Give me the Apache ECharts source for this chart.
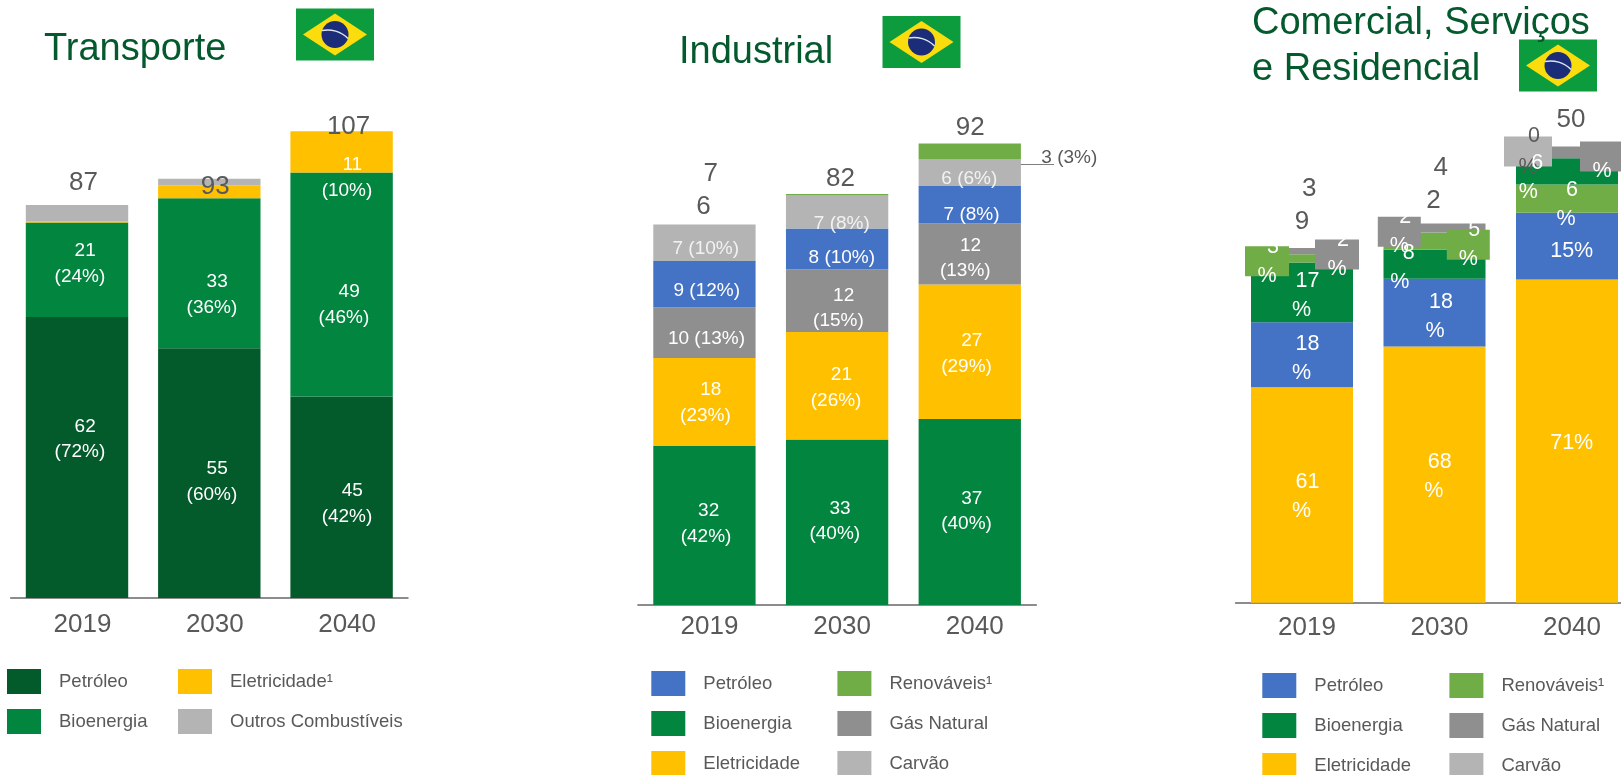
<!DOCTYPE html>
<html lang="pt">
<head>
<meta charset="utf-8">
<title>Brasil - demanda por setor</title>
<script src="https://cdn.jsdelivr.net/npm/echarts@6/dist/echarts.min.js"></script>
<style>
  html, body { margin: 0; padding: 0; background: #fff; overflow: hidden; }
  /* a tela passa um pouco da janela: o terceiro painel e a legenda são cortados na borda */
  #chart { width: 1680px; height: 800px; }
</style>
</head>
<body>
<div id="chart"></div>
<script>
// dados
const years = ['2019', '2030', '2040']

// Transporte
const trPetroleo = [62.2, 55.3, 44.6]
const trBioenergia = [20.9, 33.2, 49.6]
const trEletricidade = [0.3, 2.8, 9.1]
const trOutros = [3.6, 1.5, 0]
const trTotal = [87, 93, 107]
const trPetroleoText = ['  62\n(72%)', '  55\n(60%)', '  45\n(42%)']
const trBioenergiaText = ['  21\n(24%)', '  33\n(36%)', '  49\n(46%)']
const trEletricidadeText = [null, null, '  11\n(10%)']

// Industrial
const inBioenergia = [31.8, 33.1, 37.2]
const inEletricidade = [17.6, 21.5, 26.9]
const inGas = [10.1, 12.5, 12.2]
const inPetroleo = [9.3, 8.2, 7.5]
const inCarvao = [7.3, 6.7, 5.3]
const inRenovaveis = [0, 0.2, 3.2]
const inTotal = [76, 82, 92]
const inBioenergiaText = [' 32\n(42%)', '  33\n(40%)', '  37\n(40%)']
const inEletricidadeText = ['  18\n(23%)', '  21\n(26%)', '  27\n(29%)']
const inGasText = ['10 (13%)', '  12\n(15%)', '  12\n(13%)']
const inPetroleoText = ['9 (12%)', '8 (10%)', '7 (8%)']
const inCarvaoText = ['7 (10%)', '7 (8%)', '6 (6%)']
const inRenovaveisText = [null, null, '3 (3%)']

// Comercial, Serviços e Residencial
const csEletricidade = [23.8, 28.3, 35.7]
const csPetroleo = [7.2, 7.5, 7.4]
const csBioenergia = [6.6, 3.2, 0]
const csRenovaveis = [0.9, 1.9, 3.1]
const csBioenergiaTopo = [0, 0, 2.9]
const csGas = [0.7, 1.0, 1.3]
const csCarvao = [0, 0, 0]
const csTotal = [39, 42, 50]
const csEletricidadeText = ['  61\n%', '  68\n%', '71%']
const csPetroleoText = ['  18\n%', '  18\n%', '15%']
const csBioenergiaText = ['  17\n%', '   8\n%', null]
const csRenovaveisText = ['  3\n%', '  5\n%', '  6\n%']
const csBioenergiaTopoText = [null, null, '   6\n%']
const csGasText = ['  2\n%', '  2\n%', ' \n%']
const csCarvaoText = [null, null, '  0\n%']

// cores
const DARK_GREEN = '#035a2b'
const GREEN = '#02853f'
const YELLOW = '#ffc000'
const BLUE = '#4472c4'
const LIGHT_GREEN = '#70ad47'
const GAS_GREY = '#8f8f8f'
const LIGHT_GREY = '#b4b4b4'
const TEXT_GREY = '#595959'
const TITLE_GREEN = '#04592d'
const FONT = '"Liberation Sans", Arial, sans-serif'

// deslocamento dos rótulos em relação ao centro de cada segmento
const shifts = {
  trPetroleo: [[2.9, -18.3], [2.6, 9], [5.4, 6.8]],
  trBioenergia: [[2.9, -5.9], [2.6, 21.7], [2.3, 20.3]],
  trEletricidade: [[0, 0], [0, 0], [5.4, 26]],
  trTotal: [[6.4, -22], [6, 9.2], [7, 12.4]],
  inBioenergia: [[1.6, -1.7], [-2.3, -0.9], [-3.2, -0.7]],
  inEletricidade: [[1, 0.7], [-1, 2], [-3.2, 2.3]],
  inGas: [[2, 6.3], [1.3, 7.5], [-4.5, 4.4]],
  inPetroleo: [[2.3, 7], [4.7, 8.9], [1.8, 10]],
  inCarvao: [[1.3, 6.3], [4.7, 12.2], [-0.5, 6]],
  inRenovaveis: [[0, 0], [0, 0], [99.5, 6.7]],
  inTotal: [[-1, -34.5], [3.3, -16.3], [0.5, -17]],
  csEletricidade: [[-0.5, 2], [-0.7, 2], [4.7, 2]],
  csPetroleo: [[-0.5, 4], [0.5, 4], [4.7, 4.5]],
  csBioenergia: [[-0.5, 3.5], [-34.7, 3.5], [0, 0]],
  csRenovaveis: [[-35, 3], [33.8, 3.6], [-1, 5.7]],
  csBioenergiaTopo: [[0, 0], [0, 0], [-38.7, 5.7]],
  csGas: [[35, 3.3], [-35.2, 3.7], [35, 4.1]],
  csCarvao: [[0, 0], [0, 0], [-39, 5]],
  csTotal: [[0, -44], [-1, -38.6], [4, -30]]
}

// caixas coladas atrás dos rótulos pequenos do terceiro painel
function box(color, width) {
  return { backgroundColor: color, width: width, height: 30, padding: [-14.5, 0, 14.5, 0], align: 'center', overflow: 'none' }
}
const csRenovaveisBox = [box(LIGHT_GREEN, 44), box(LIGHT_GREEN, 43), null]
const csGasBox = [box(GAS_GREY, 44), box(GAS_GREY, 43), box(GAS_GREY, 44)]
const csCarvaoBox = [null, null, Object.assign(box(LIGHT_GREY, 48), { color: TEXT_GREY, lineHeight: 31, padding: [-19, 0, 19, 0] })]

const panels = [
  { left: 10.85, width: 396.9, top: 101, height: 497, max: 110, barWidth: 102.4, labelSize: 19, lineHeight: 25.7, axisMargin: 14, axisShift: 11 },
  { left: 638.1, width: 398, top: 105, height: 500, max: 100, barWidth: 102.3, labelSize: 19, lineHeight: 25.7, axisMargin: 9, axisShift: 10 },
  { left: 1235.75, width: 397.5, top: 59.7, height: 543, max: 60, barWidth: 102, labelSize: 21.5, lineHeight: 29, axisMargin: 12, axisShift: 10 }
]

function barSeries(panelIndex, name, values, color, texts, shift, boxes, labelColor) {
  const panel = panels[panelIndex]
  return {
    type: 'bar',
    name: name,
    stack: 'panel' + panelIndex,
    xAxisIndex: panelIndex,
    yAxisIndex: panelIndex,
    barWidth: panel.barWidth,
    itemStyle: { color: color },
    data: values.map(function(value, i) {
      const text = texts && texts[i]
      if (!text) return value
      return {
        value: value,
        label: Object.assign({
          show: true,
          position: 'inside',
          formatter: text,
          offset: shift[i],
          color: labelColor || '#fff',
          fontFamily: FONT,
          fontSize: panel.labelSize,
          lineHeight: panel.lineHeight
        }, boxes && boxes[i] ? boxes[i] : {})
      }
    })
  }
}

// ponto invisível que só carrega um rótulo; fica acima de barras e caixas
function textSeries(panelIndex, name, yValues, texts, shift, font) {
  return {
    type: 'scatter',
    name: name,
    xAxisIndex: panelIndex,
    yAxisIndex: panelIndex,
    symbolSize: 1,
    silent: true,
    // opacity 1: o padrão do scatter (0.8) também apagaria o rótulo
    itemStyle: { color: 'transparent', opacity: 1 },
    z: 5,
    data: yValues.map(function(value, i) {
      const text = texts[i]
      if (!text) return [i, value]
      return {
        value: [i, value],
        label: {
          show: true,
          position: 'inside',
          formatter: text,
          offset: shift[i],
          color: font.color,
          fontFamily: FONT,
          fontSize: font.size,
          lineHeight: font.lineHeight
        }
      }
    })
  }
}

function totalSeries(panelIndex, values, texts, shift) {
  return textSeries(panelIndex, 'Total', values, texts, shift, { color: TEXT_GREY, size: 26, lineHeight: 33 })
}

// meio de um segmento, somando o que está embaixo dele na pilha
function middleOf(values, below) {
  return values.map(function(value, i) {
    return below.reduce(function(sum, arr) { return sum + arr[i] }, 0) + value / 2
  })
}

const csFont = { color: '#fff', size: panels[2].labelSize, lineHeight: panels[2].lineHeight }

const series = [
  barSeries(0, 'Petróleo', trPetroleo, DARK_GREEN, trPetroleoText, shifts.trPetroleo),
  barSeries(0, 'Bioenergia', trBioenergia, GREEN, trBioenergiaText, shifts.trBioenergia),
  barSeries(0, 'Eletricidade¹', trEletricidade, YELLOW, trEletricidadeText, shifts.trEletricidade),
  barSeries(0, 'Outros Combustíveis', trOutros, LIGHT_GREY),
  totalSeries(0, trTotal, ['87', '93', '107'], shifts.trTotal),

  barSeries(1, 'Bioenergia', inBioenergia, GREEN, inBioenergiaText, shifts.inBioenergia),
  barSeries(1, 'Eletricidade', inEletricidade, YELLOW, inEletricidadeText, shifts.inEletricidade),
  barSeries(1, 'Gás Natural', inGas, GAS_GREY, inGasText, shifts.inGas),
  barSeries(1, 'Petróleo', inPetroleo, BLUE, inPetroleoText, shifts.inPetroleo),
  barSeries(1, 'Carvão', inCarvao, LIGHT_GREY, inCarvaoText, shifts.inCarvao, null, '#f2f2f2'),
  barSeries(1, 'Renováveis¹', inRenovaveis, LIGHT_GREEN, inRenovaveisText, shifts.inRenovaveis, null, TEXT_GREY),
  totalSeries(1, inTotal, ['  7\n6', '82', '92'], shifts.inTotal),

  barSeries(2, 'Eletricidade', csEletricidade, YELLOW, csEletricidadeText, shifts.csEletricidade),
  barSeries(2, 'Petróleo', csPetroleo, BLUE, csPetroleoText, shifts.csPetroleo),
  barSeries(2, 'Bioenergia', csBioenergia, GREEN),
  barSeries(2, 'Renováveis¹', csRenovaveis, LIGHT_GREEN, csRenovaveisText, shifts.csRenovaveis, csRenovaveisBox),
  barSeries(2, 'Bioenergia', csBioenergiaTopo, GREEN),
  barSeries(2, 'Gás Natural', csGas, GAS_GREY, csGasText, shifts.csGas, csGasBox),
  barSeries(2, 'Carvão', csCarvao, LIGHT_GREY, csCarvaoText, shifts.csCarvao, csCarvaoBox),
  // os números da bioenergia ficam por cima das caixas
  textSeries(2, 'Bioenergia (rótulo)', middleOf(csBioenergia, [csEletricidade, csPetroleo]), csBioenergiaText, shifts.csBioenergia, csFont),
  textSeries(2, 'Bioenergia (rótulo topo)', middleOf(csBioenergiaTopo, [csEletricidade, csPetroleo, csBioenergia, csRenovaveis]), csBioenergiaTopoText, shifts.csBioenergiaTopo, csFont),
  totalSeries(2, csTotal, ['  3\n9', '  4\n2', '50'], shifts.csTotal)
]

function legend(left, top, items) {
  return {
    left: left,
    top: top,
    orient: 'vertical',
    padding: 0,
    itemWidth: 34,
    itemHeight: 25,
    itemGap: 15,
    icon: 'rect',
    selectedMode: false,
    textStyle: { color: TEXT_GREY, fontFamily: FONT, fontSize: 18.5, padding: [2, 0, 0, 13] },
    data: items.map(function(item) {
      return { name: item[0], itemStyle: { color: item[1] } }
    })
  }
}

function flag(x, y) {
  return {
    type: 'group',
    x: x,
    y: y,
    children: [
      { type: 'rect', shape: { x: 0, y: 0, width: 78, height: 52 }, style: { fill: '#0c9c3e' } },
      { type: 'polygon', shape: { points: [[7, 26], [39, 5], [71, 26], [39, 47]] }, style: { fill: '#fbdc0c' } },
      { type: 'circle', shape: { cx: 39, cy: 26, r: 13.5 }, style: { fill: '#1b2c78' } },
      { type: 'bezierCurve', shape: { x1: 26, y1: 22, x2: 52, y2: 30, cpx1: 35, cpy1: 20, cpx2: 45, cpy2: 23 }, style: { fill: 'none', stroke: '#dfe6ee', lineWidth: 1.5 } }
    ]
  }
}

const titleStyle = { color: TITLE_GREEN, fontFamily: FONT, fontWeight: 'normal', fontSize: 38 }

const option = {
  animation: false,
  backgroundColor: '#fff',
  title: [
    { text: 'Transporte', left: 44, top: 29, padding: 0, textStyle: Object.assign({ lineHeight: 42 }, titleStyle) },
    { text: 'Industrial', left: 679, top: 32, padding: 0, textStyle: Object.assign({ lineHeight: 42 }, titleStyle) },
    { text: 'Comercial, Serviços\ne Residencial', left: 1252, top: 1, padding: 0, textStyle: Object.assign({ lineHeight: 46 }, titleStyle) }
  ],
  legend: [
    legend(7, 669, [['Petróleo', DARK_GREEN], ['Bioenergia', GREEN]]),
    legend(178, 669, [['Eletricidade¹', YELLOW], ['Outros Combustíveis', LIGHT_GREY]]),
    legend(651.3, 671, [['Petróleo', BLUE], ['Bioenergia', GREEN], ['Eletricidade', YELLOW]]),
    legend(837.4, 671, [['Renováveis¹', LIGHT_GREEN], ['Gás Natural', GAS_GREY], ['Carvão', LIGHT_GREY]]),
    legend(1262.3, 673, [['Petróleo', BLUE], ['Bioenergia', GREEN], ['Eletricidade', YELLOW]]),
    legend(1449.4, 673, [['Renováveis¹', LIGHT_GREEN], ['Gás Natural', GAS_GREY], ['Carvão', LIGHT_GREY]])
  ],
  grid: panels.map(function(p) {
    return { left: p.left, top: p.top, width: p.width, height: p.height }
  }),
  xAxis: panels.map(function(p, i) {
    return {
      type: 'category',
      gridIndex: i,
      data: years,
      axisTick: { show: false },
      axisLine: { lineStyle: { color: '#8c8c8c', width: 2 } },
      axisLabel: { color: TEXT_GREY, fontFamily: FONT, fontSize: 26, margin: p.axisMargin, padding: [0, 0, 0, p.axisShift] }
    }
  }),
  yAxis: panels.map(function(p, i) {
    return { type: 'value', gridIndex: i, min: 0, max: p.max, show: false, splitLine: { show: false } }
  }),
  series: series,
  graphic: {
    elements: [
      flag(296, 8.5),
      flag(882.5, 16),
      flag(1519, 39.5),
      // linha de chamada do rótulo 3 (3%)
      { type: 'line', shape: { x1: 1020, y1: 164.5, x2: 1054, y2: 164.5 }, style: { stroke: '#7f7f7f', lineWidth: 1 } }
    ]
  }
}

const chart = echarts.init(document.getElementById('chart'))
chart.setOption(option)
window.addEventListener('resize', () => { chart.resize() })
</script>
</body>
</html>
